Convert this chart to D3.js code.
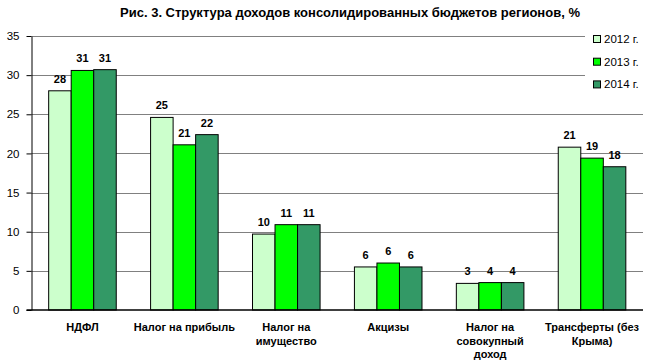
<!DOCTYPE html>
<html>
<head>
<meta charset="utf-8">
<script src="https://cdn.jsdelivr.net/npm/d3@7"></script>
<style>
  body { margin: 0; background: #fff; }
  svg { font-family: Arial, "Liberation Sans", sans-serif; }
</style>
</head>
<body>
<div id="chart"></div>
<script>
// Data
const categories = [
  ["НДФЛ"],
  ["Налог на прибыль"],
  ["Налог на", "имущество"],
  ["Акцизы"],
  ["Налог на", "совокупный", "доход"],
  ["Трансферты (без", "Крыма)"]
];
const years = ["2012 г.", "2013 г.", "2014 г."];
const values2012 = [28.0, 24.6, 9.7, 5.5, 3.4, 20.8];
const values2013 = [30.6, 21.1, 10.9, 6.0, 3.5, 19.4];
const values2014 = [30.7, 22.4, 10.9, 5.5, 3.5, 18.3];
const yTicks = [0, 5, 10, 15, 20, 25, 30, 35];
const colors = ["#ccffcc", "#00ff00", "#339966"];

const series = [values2012, values2013, values2014];

// Layout
const width = 649, height = 363;
const margin = { top: 36, right: 6, bottom: 53, left: 31.5 };

const svg = d3.select("#chart")
  .append("svg")
  .attr("width", width)
  .attr("height", height);

const x0 = d3.scaleBand()
  .domain(d3.range(categories.length))
  .range([margin.left, width - margin.right])
  .paddingInner(0.337)
  .paddingOuter(0.1685);

const x1 = d3.scaleBand()
  .domain(d3.range(years.length))
  .range([0, x0.bandwidth()]);

const y = d3.scaleLinear()
  .domain([0, 35])
  .range([height - margin.bottom, margin.top]);

// Gridlines
svg.append("g")
  .selectAll("line")
  .data(yTicks.slice(1))
  .join("line")
  .attr("x1", margin.left)
  .attr("x2", width - margin.right)
  .attr("y1", d => Math.round(y(d)) + 0.5)
  .attr("y2", d => Math.round(y(d)) + 0.5)
  .attr("stroke", "#808080")
  .attr("stroke-width", 1);

// Bars
const groups = svg.append("g")
  .selectAll("g")
  .data(categories)
  .join("g")
  .attr("transform", (d, i) => `translate(${x0(i)},0)`);

groups.selectAll("rect")
  .data((d, i) => series.map((s, j) => ({ j, v: s[i] })))
  .join("rect")
  .attr("x", d => x1(d.j))
  .attr("y", d => y(d.v))
  .attr("width", x1.bandwidth())
  .attr("height", d => y(0) - y(d.v))
  .attr("fill", d => colors[d.j])
  .attr("stroke", "#000")
  .attr("stroke-width", 1);

groups.selectAll("text")
  .data((d, i) => series.map((s, j) => ({ j, v: s[i] })))
  .join("text")
  .attr("x", d => x1(d.j) + x1.bandwidth() / 2)
  .attr("y", d => y(d.v) - 8)
  .attr("text-anchor", "middle")
  .attr("font-size", "11px")
  .attr("font-weight", "bold")
  .text(d => Math.round(d.v));

// Y axis
const yAxis = svg.append("g")
  .attr("transform", `translate(${margin.left},0)`)
  .call(d3.axisLeft(y).tickValues(yTicks).tickSize(5).tickPadding(7).tickSizeOuter(0));
yAxis.select(".domain").attr("stroke", "#000");
yAxis.selectAll(".tick line").attr("stroke", "#000");
yAxis.selectAll("text").attr("font-size", "11.5px").attr("fill", "#000")
  .attr("font-family", "Arial, 'Liberation Sans', sans-serif");

// X axis line
svg.append("line")
  .attr("x1", margin.left - 5)
  .attr("x2", width - margin.right)
  .attr("y1", y(0))
  .attr("y2", y(0))
  .attr("stroke", "#000")
  .attr("stroke-width", 1.5);

// Category labels
svg.append("g")
  .selectAll("text")
  .data(categories)
  .join("text")
  .attr("x", (d, i) => x0(i) + x0.bandwidth() / 2)
  .attr("y", 331)
  .attr("text-anchor", "middle")
  .attr("font-size", "11px")
  .attr("font-weight", "bold")
  .selectAll("tspan")
  .data(d => d)
  .join("tspan")
  .attr("x", function () { return this.parentNode.getAttribute("x"); })
  .attr("dy", (d, i) => i === 0 ? 0 : 13.5)
  .text(d => d);

// Title
svg.append("text")
  .attr("x", 350)
  .attr("y", 17)
  .attr("text-anchor", "middle")
  .attr("font-size", "13px")
  .attr("font-weight", "bold")
  .text("Рис. 3. Структура доходов консолидированных бюджетов регионов, %");

// Legend
const legend = svg.append("g");
legend.append("rect")
  .attr("x", 585)
  .attr("y", 27)
  .attr("width", 64)
  .attr("height", 70)
  .attr("fill", "#fff");

const items = legend.selectAll("g")
  .data(years)
  .join("g")
  .attr("transform", (d, i) => `translate(593,${39 + i * 22.7})`);

items.append("rect")
  .attr("x", 0.5)
  .attr("y", -3.5)
  .attr("width", 7)
  .attr("height", 7)
  .attr("fill", (d, i) => colors[i])
  .attr("stroke", "#000");

items.append("text")
  .attr("x", 11)
  .attr("y", 4)
  .attr("font-size", "11.5px")
  .text(d => d);
</script>
</body>
</html>
